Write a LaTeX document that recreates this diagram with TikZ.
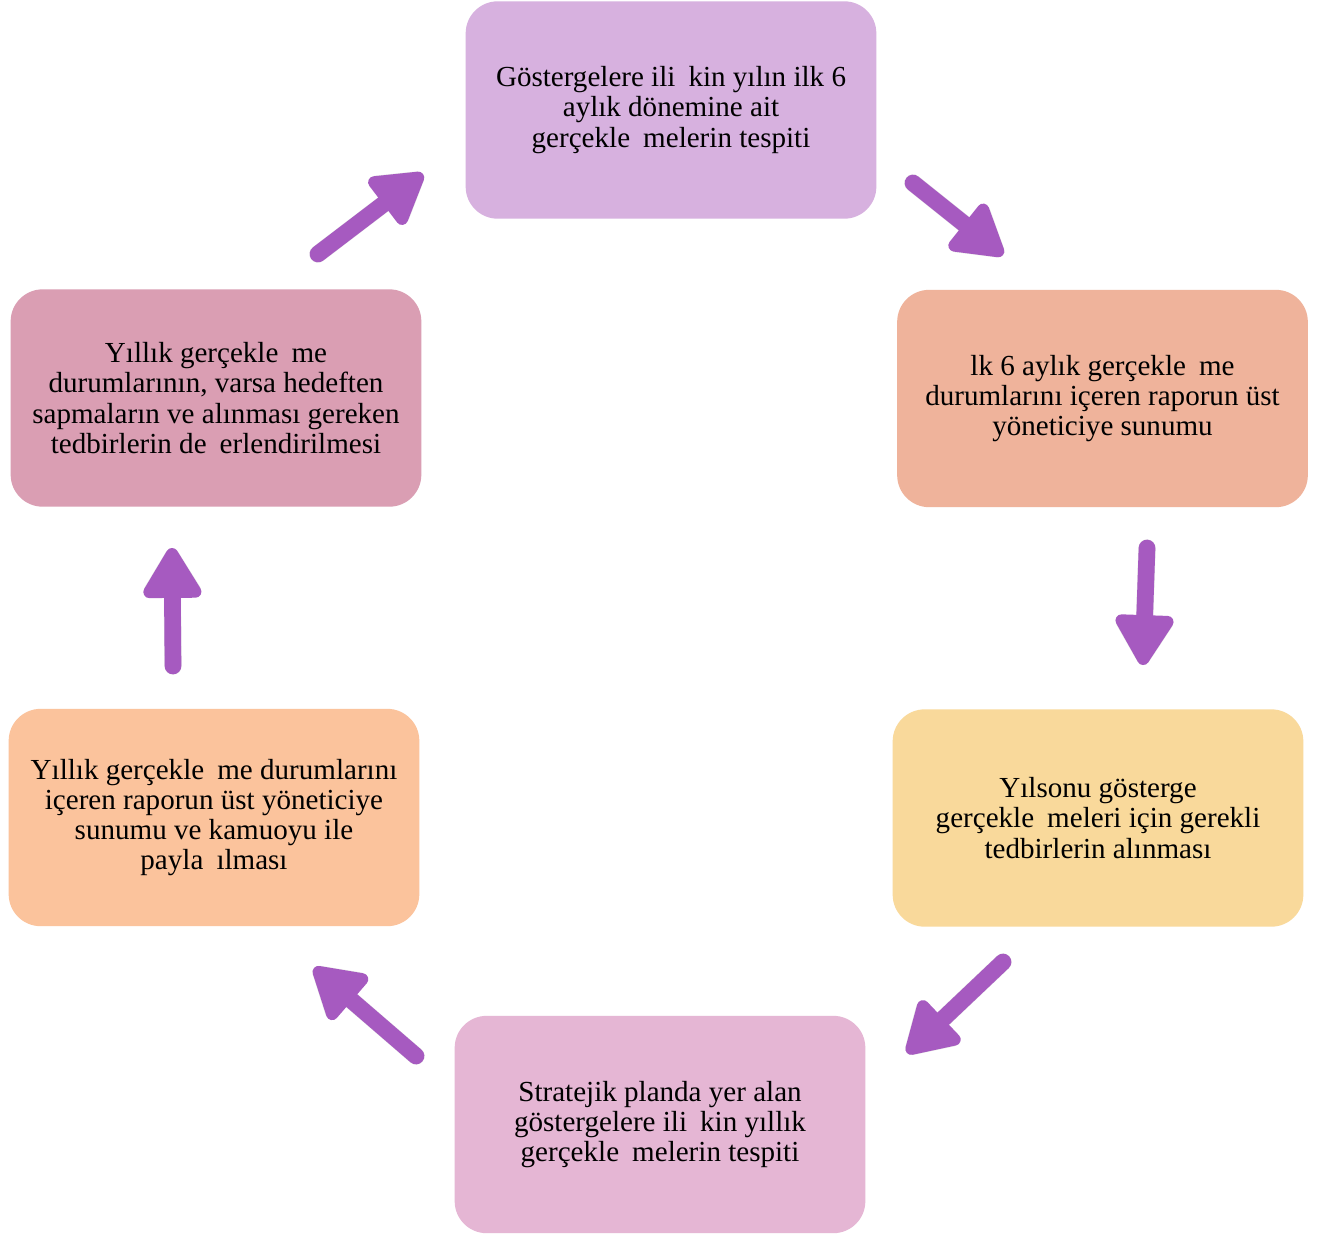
\documentclass[tikz,border=0pt]{standalone}
\usepackage{fontspec}
\setmainfont{Liberation Serif}
\usetikzlibrary{arrows.meta}
\definecolor{cTop}{HTML}{D7B1DF}
\definecolor{cRT}{HTML}{EFB39B}
\definecolor{cRB}{HTML}{F9D99B}
\definecolor{cBot}{HTML}{E5B6D4}
\definecolor{cLB}{HTML}{FBC39C}
\definecolor{cLT}{HTML}{DA9EB3}
\definecolor{arrowc}{HTML}{A65AC0}
\newcommand\gp{\hspace{0.45em}}
\begin{document}
\begin{tikzpicture}[x=0.75pt,y=-0.75pt,
  box/.style={rounded corners=24pt, minimum width=308pt, minimum height=163pt,
    inner sep=0pt, align=center, font=\fontsize{21.8}{22.6}\selectfont},
  flow/.style={draw=arrowc, line width=12.5pt, line cap=round,
    -{Triangle[length=42pt,width=48pt,line width=9pt,round]}},
  flowshadow/.style={draw=black, opacity=0.10, line width=13pt, line cap=round,
    -{Triangle[length=42pt,width=48pt,line width=10pt,round]}}]
\useasboundingbox (0,0) rectangle (1327,1236);
\fill[white] (0,0) rectangle (1327,1236);

\node[box, fill=cTop] (top) at (671,110)
  {Göstergelere ili\gp kin yılın ilk 6\\aylık dönemine ait\\gerçekle\gp melerin tespiti};
\node[box, fill=cRT] (rt) at (1102.5,398.5)
  {lk 6 aylık gerçekle\gp me\\durumlarını içeren raporun üst\\yöneticiye sunumu};
\node[box, fill=cRB] (rb) at (1098,818)
  {Yılsonu gösterge\\gerçekle\gp meleri için gerekli\\tedbirlerin alınması};
\node[box, fill=cBot] (bot) at (660,1124.5)
  {Stratejik planda yer alan\\göstergelere ili\gp kin yıllık\\gerçekle\gp melerin tespiti};
\node[box, fill=cLB] (lb) at (214,817.5)
  {Yıllık gerçekle\gp me durumlarını\\içeren raporun üst yöneticiye\\sunumu ve kamuoyu ile\\payla\gp ılması};
\node[box, fill=cLT] (lt) at (216,398)
  {Yıllık gerçekle\gp me\\durumlarının, varsa hedeften\\sapmaların ve alınması gereken\\tedbirlerin de\gp erlendirilmesi};

\coordinate (a1s) at (913,183);  \coordinate (a1e) at (1003,255);
\coordinate (a2s) at (1147,548); \coordinate (a2e) at (1143,665);
\coordinate (a3s) at (1003,962); \coordinate (a3e) at (907,1053);
\coordinate (a4s) at (416,1056); \coordinate (a4e) at (314,968);
\coordinate (a5s) at (173,666);  \coordinate (a5e) at (172,548);
\coordinate (a6s) at (318,254);  \coordinate (a6e) at (423,174);

\begin{scope}[shift={(3,4)}]
\foreach \i in {1,...,6} \draw[flowshadow] (a\i s) -- (a\i e);
\end{scope}
\foreach \i in {1,...,6} \draw[flow] (a\i s) -- (a\i e);
\end{tikzpicture}
\end{document}
